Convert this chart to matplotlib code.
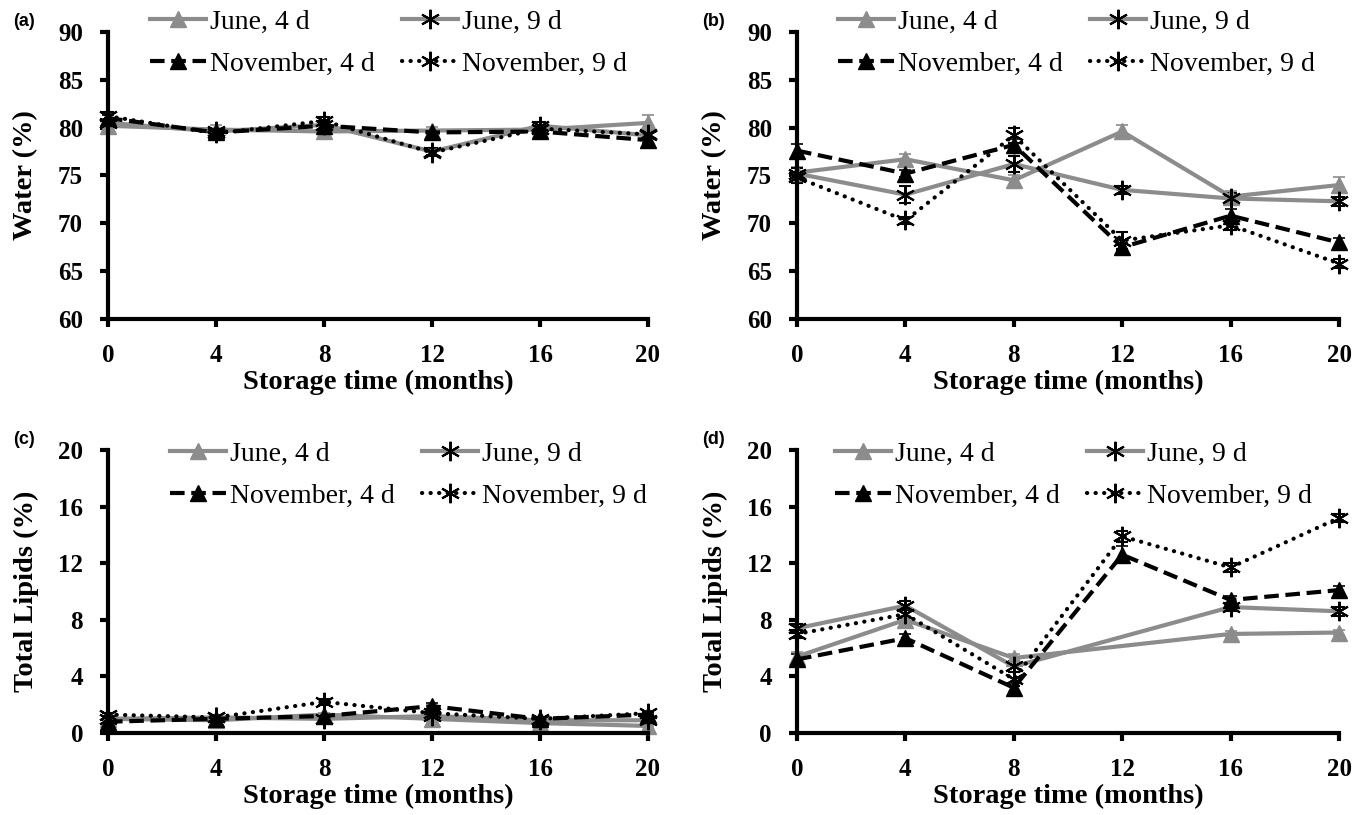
import numpy as np
import matplotlib
matplotlib.use("Agg")
import matplotlib.pyplot as plt

plt.rcParams['font.family'] = ['Liberation Serif', 'DejaVu Serif']

months = [0, 4, 8, 12, 16, 20]
series_labels = ["June, 4 d", "June, 9 d", "November, 4 d", "November, 9 d"]

# (a) water, one site
water_a = {
    "June, 4 d": [80.2, 79.8, 79.6, 79.7, 79.8, 80.5],
    "June, 9 d": [80.5, 79.6, 80.3, 77.5, 80.2, 79.2],
    "November, 4 d": [81.0, 79.5, 80.2, 79.5, 79.6, 78.7],
    "November, 9 d": [81.2, 79.4, 80.7, 77.4, 79.9, 79.3],
}
water_a_err = {
    "June, 4 d": [0.3, 0.5, 0.4, 0.4, 0.3, 0.8],
    "June, 9 d": [0.3, 0.3, 0.4, 0.4, 0.4, 0.3],
    "November, 4 d": [0.3, 0.3, 0.3, 0.3, 0.3, 0.3],
    "November, 9 d": [0.4, 0.3, 0.4, 0.4, 0.3, 0.3],
}

# (b) water, other site
water_b = {
    "June, 4 d": [75.3, 76.7, 74.5, 79.6, 72.8, 74.0],
    "June, 9 d": [75.2, 73.0, 76.2, 73.5, 72.6, 72.3],
    "November, 4 d": [77.6, 75.2, 78.2, 67.5, 70.8, 68.0],
    "November, 9 d": [74.8, 70.3, 79.2, 68.2, 69.8, 65.8],
}
water_b_err = {
    "June, 4 d": [0.6, 0.5, 0.5, 0.7, 0.6, 0.8],
    "June, 9 d": [0.6, 0.9, 0.8, 0.4, 0.6, 0.5],
    "November, 4 d": [0.7, 0.4, 0.6, 0.4, 0.7, 0.5],
    "November, 9 d": [0.6, 0.4, 0.8, 0.9, 0.5, 0.5],
}

# (c) total lipids, one site
lipids_c = {
    "June, 4 d": [1.0, 0.9, 1.3, 1.0, 0.7, 0.5],
    "June, 9 d": [1.0, 1.1, 1.0, 1.2, 0.9, 0.9],
    "November, 4 d": [0.8, 1.0, 1.2, 1.9, 1.0, 1.3],
    "November, 9 d": [1.3, 1.1, 2.2, 1.4, 1.0, 1.4],
}
lipids_c_err = {
    "June, 4 d": [0.1, 0.1, 0.1, 0.1, 0.1, 0.1],
    "June, 9 d": [0.1, 0.1, 0.1, 0.1, 0.1, 0.1],
    "November, 4 d": [0.1, 0.1, 0.1, 0.2, 0.1, 0.1],
    "November, 9 d": [0.1, 0.1, 0.2, 0.1, 0.1, 0.1],
}

# (d) total lipids, other site (June not measured at 12 months)
lipids_d = {
    "June, 4 d": [5.4, 8.0, 5.3, np.nan, 7.0, 7.1],
    "June, 9 d": [7.4, 9.0, 4.7, np.nan, 8.9, 8.6],
    "November, 4 d": [5.2, 6.7, 3.2, 12.6, 9.4, 10.1],
    "November, 9 d": [7.0, 8.4, 3.8, 13.9, 11.7, 15.2],
}
lipids_d_err = {
    "June, 4 d": [0.3, 0.3, 0.3, 0.0, 0.2, 0.2],
    "June, 9 d": [0.3, 0.3, 0.4, 0.0, 0.3, 0.3],
    "November, 4 d": [0.4, 0.3, 0.3, 0.6, 0.3, 0.3],
    "November, 9 d": [0.3, 0.3, 0.5, 0.4, 0.3, 0.3],
}

gray = "#8c8c8c"
star = (6, 2, 0)
styles = {
    "June, 4 d": dict(color=gray, ls="-", marker="^", mfc=gray, mec=gray, ms=11),
    "June, 9 d": dict(color=gray, ls="-", marker=star, mfc="black", mec="black", ms=14, mew=1.5),
    "November, 4 d": dict(color="black", ls=(0, (3.5, 1.6)), marker="^", mfc="black", mec="black", ms=11),
    "November, 9 d": dict(color="black", ls=(0, (0.05, 2.0)), marker=star, mfc="black", mec="black",
                          ms=14, mew=1.5, dash_capstyle="round"),
}

fig = plt.figure(figsize=(13.59, 8.15), dpi=100)

W, H = 1359, 815
# tag, values, errors, ylim, yticks, ylabel, axes box in pixels, legend anchor in pixels
panels = [
    ("(a)", water_a, water_a_err, (60, 90), range(60, 91, 5), "Water (%)", (108, 648, 32, 319), (150, 9)),
    ("(b)", water_b, water_b_err, (60, 90), range(60, 91, 5), "Water (%)", (797, 1339, 32, 319), (838, 9)),
    ("(c)", lipids_c, lipids_c_err, (0, 20), range(0, 21, 4), "Total Lipids (%)", (108, 648, 450, 733), (170, 441)),
    ("(d)", lipids_d, lipids_d_err, (0, 20), range(0, 21, 4), "Total Lipids (%)", (797, 1339, 450, 733), (835, 441)),
]

for tag, data, err, ylim, yticks, ylabel, (x0, x1, y0, y1), (lx, ly) in panels:
    ax = fig.add_axes([x0 / W, 1 - y1 / H, (x1 - x0) / W, (y1 - y0) / H])
    handles = {}
    for name in series_labels:
        st = dict(styles[name])
        vals = np.array(data[name], dtype=float)
        ok = ~np.isnan(vals)
        x = np.array(months)[ok]
        e = np.array(err[name])[ok]
        ecol = "black" if name != "June, 4 d" else gray
        h = ax.errorbar(x, vals[ok], yerr=e, ecolor=ecol, elinewidth=1.2, capsize=4,
                        capthick=1.2, lw=3, label=name, clip_on=False, **st)
        handles[name] = h[0]
    ax.set_xlim(0, 20)
    ax.set_ylim(*ylim)
    ax.set_xticks(months)
    ax.set_yticks(list(yticks))
    for s in ("top", "right"):
        ax.spines[s].set_visible(False)
    for s in ("left", "bottom"):
        ax.spines[s].set_linewidth(3)
    ax.tick_params(width=3, length=6, labelsize=18)
    ax.tick_params(axis="y", pad=12)
    ax.tick_params(axis="x", pad=12)
    for lab in ax.get_xticklabels() + ax.get_yticklabels():
        lab.set_fontweight("bold")
    ax.set_xlabel("Storage time (months)", fontsize=20.5, fontweight="bold", labelpad=2)
    ax.set_ylabel(ylabel, fontsize=20.5, fontweight="bold", labelpad=14)

    order = ["June, 4 d", "November, 4 d", "June, 9 d", "November, 9 d"]
    ax.legend([handles[n] for n in order], order, ncol=2, frameon=False, loc="upper left",
              bbox_to_anchor=(lx / W, 1 - ly / H), bbox_transform=fig.transFigure,
              fontsize=20, handlelength=2.0, handletextpad=0.15, borderpad=0,
              columnspacing=1.0, labelspacing=0.6, borderaxespad=0)
    fig.text((x0 - 95) / W, 1 - (y0 - 10) / H, tag, fontsize=13, fontweight="bold",
             family="Liberation Sans", va="center")

fig.savefig("out.png", dpi=100)
